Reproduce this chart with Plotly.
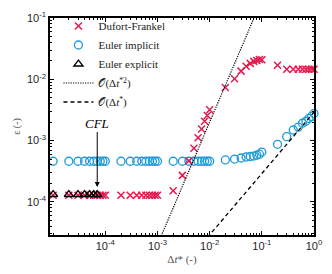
import plotly.graph_objects as go
import math

# ---- data ----
dt = [1e-5, 2e-5, 3e-5, 4e-5, 5e-5, 6e-5, 7e-5, 8e-5, 9e-5,
      1e-4, 2e-4, 3e-4, 4e-4, 5e-4, 6e-4, 7e-4, 8e-4, 9e-4,
      1e-3, 2e-3, 3e-3, 4e-3, 5e-3, 6e-3, 7e-3, 8e-3, 9e-3,
      1e-2, 2e-2, 3e-2, 4e-2, 5e-2, 6e-2, 7e-2, 8e-2, 9e-2,
      1e-1, 2e-1, 3e-1, 4e-1, 5e-1, 6e-1, 7e-1, 8e-1, 9e-1, 1.0]

err_dufort = [1.28e-4, 1.28e-4, 1.28e-4, 1.28e-4, 1.28e-4, 1.28e-4, 1.28e-4, 1.28e-4, 1.28e-4,
              1.28e-4, 1.28e-4, 1.28e-4, 1.28e-4, 1.28e-4, 1.28e-4, 1.28e-4, 1.28e-4, 1.28e-4,
              1.28e-4, 1.52e-4, 2.71e-4, 4.67e-4, 7.48e-4, 1.11e-3, 1.55e-3, 2.07e-3, 2.57e-3,
              3.19e-3, 7.35e-3, 1.02e-2, 1.36e-2, 1.63e-2, 1.82e-2, 1.96e-2, 2.03e-2, 2.10e-2,
              2.08e-2, 1.69e-2, 1.46e-2, 1.46e-2, 1.46e-2, 1.46e-2, 1.46e-2, 1.46e-2, 1.46e-2, 1.46e-2]

err_implicit = [4.6e-4, 4.6e-4, 4.6e-4, 4.6e-4, 4.6e-4, 4.6e-4, 4.6e-4, 4.6e-4, 4.6e-4,
                4.6e-4, 4.6e-4, 4.6e-4, 4.6e-4, 4.6e-4, 4.6e-4, 4.6e-4, 4.6e-4, 4.6e-4,
                4.6e-4, 4.6e-4, 4.6e-4, 4.6e-4, 4.6e-4, 4.6e-4, 4.6e-4, 4.6e-4, 4.6e-4,
                4.6e-4, 4.84e-4, 5.0e-4, 5.2e-4, 5.4e-4, 5.5e-4, 5.6e-4, 5.8e-4, 6.0e-4,
                6.5e-4, 8.7e-4, 1.16e-3, 1.49e-3, 1.66e-3, 1.92e-3, 2.07e-3, 2.3e-3, 2.48e-3, 2.76e-3]

dt_explicit = [1e-5, 2e-5, 3e-5, 4e-5, 5e-5, 6e-5, 7e-5]
err_explicit = [1.32e-4, 1.32e-4, 1.32e-4, 1.32e-4, 1.32e-4, 1.32e-4, 1.32e-4]

ref2_dt = [1e-3, 1e-1]
ref2_err = [2e-5, 2e-1]
ref1_dt = [1e-3, 1.0]
ref1_err = [2.9e-6, 2.9e-3]

cfl_dt = 7e-5
cfl_err = 1.75e-4

x_ticks = [1e-4, 1e-3, 1e-2, 1e-1, 1e0]
x_ticktext = ["10<sup>-4</sup>", "10<sup>-3</sup>", "10<sup>-2</sup>", "10<sup>-1</sup>", "10<sup>0</sup>"]
y_ticks = [1e-4, 1e-3, 1e-2, 1e-1]
y_ticktext = ["10<sup>-4</sup>", "10<sup>-3</sup>", "10<sup>-2</sup>", "10<sup>-1</sup>"]

RED = "#E5194D"
BLUE = "#1F9AD6"
SERIF = "Liberation Serif"
SANS = "Liberation Sans"

fig = go.Figure()
fig.add_trace(go.Scatter(x=dt, y=err_implicit, mode="markers", name="Euler implicit",
                         legendrank=2, cliponaxis=False,
                         marker=dict(symbol="circle-open", size=8, color=BLUE, line=dict(width=1.3, color=BLUE))))
fig.add_trace(go.Scatter(x=dt, y=err_dufort, mode="markers", name="Dufort-Frankel",
                         legendrank=1, cliponaxis=False,
                         marker=dict(symbol="x-thin-open", size=7, color=RED, line=dict(width=1.5, color=RED))))
fig.add_trace(go.Scatter(x=dt_explicit, y=err_explicit, mode="markers", name="Euler explicit",
                         legendrank=3, cliponaxis=False,
                         marker=dict(symbol="triangle-up-open", size=8, color="black", line=dict(width=1.3, color="black"))))
fig.add_trace(go.Scatter(x=ref2_dt, y=ref2_err, mode="lines", name="𝒪(Δ<i>t</i><sup>*2</sup>)",
                         legendrank=4, line=dict(color="black", width=1.2, dash="1.2px,1.2px")))
fig.add_trace(go.Scatter(x=ref1_dt, y=ref1_err, mode="lines", name="𝒪(Δ<i>t</i><sup>*</sup>)",
                         legendrank=5, line=dict(color="black", width=1.3, dash="4px,3px")))

fig.add_annotation(x=math.log10(cfl_dt), y=math.log10(cfl_err), xref="x", yref="y",
                   text="<i>CFL</i>", showarrow=True, arrowhead=2, arrowsize=1, arrowwidth=1,
                   arrowcolor="black", ax=0, ay=-64,
                   font=dict(family=SERIF, size=13, color="black"))

axis_common = dict(type="log", showgrid=False, zeroline=False, showline=True, linecolor="black",
                   linewidth=1.5, mirror="allticks", ticks="inside", ticklen=4, tickcolor="black",
                   tickwidth=1, tickfont=dict(family=SANS, size=11, color="#262626"),
                   minor=dict(ticks="inside", ticklen=2, tickcolor="black", tickwidth=1, showgrid=False, dtick="D1"))

fig.update_xaxes(range=[-5.06, 0], tickmode="array", tickvals=x_ticks, ticktext=x_ticktext,
                 title=dict(text="Δ<i>t</i>* (-)", font=dict(family=SERIF, size=11, color="#555555"), standoff=4),
                 **axis_common)
fig.update_yaxes(range=[-4.54, -1], tickmode="array", tickvals=y_ticks, ticktext=y_ticktext,
                 title=dict(text="ε (-)", font=dict(family=SERIF, size=10, color="#555555"), standoff=4),
                 **axis_common)

fig.update_layout(width=332, height=274, margin=dict(l=50, r=12, t=10, b=39),
                  paper_bgcolor="white", plot_bgcolor="white",
                  legend=dict(x=0.032, y=1.03, xanchor="left", yanchor="top", bgcolor="rgba(0,0,0,0)",
                              font=dict(family=SERIF, size=11, color="#222222"), itemwidth=30,
                              tracegroupgap=0),
                  showlegend=True)

fig.write_html("out.html", config={"displayModeBar": False},
               post_script="document.body.style.margin='0px';")
